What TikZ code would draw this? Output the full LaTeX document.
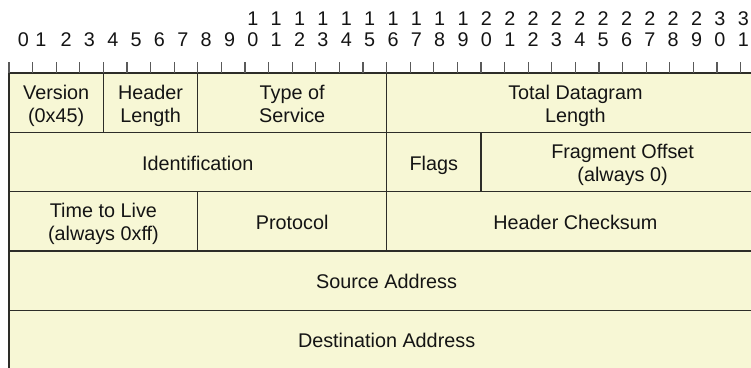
\documentclass[tikz,border=0pt]{standalone}
\usepackage{fontspec}
\setmainfont{Liberation Sans}
\definecolor{fieldfill}{RGB}{247,247,213}
\definecolor{rulecol}{RGB}{45,45,40}
\definecolor{tickcol}{RGB}{90,90,90}
\definecolor{inkcol}{RGB}{20,20,20}
\tikzset{
  field/.style={draw=rulecol, fill=fieldfill, line width=1.3pt, inner sep=0pt},
  fieldtext/.style={inner sep=0pt, align=center, text=inkcol,
    font=\fontsize{19.8}{23}\selectfont},
  bitnum/.style={inner sep=0pt, text=inkcol, font=\fontsize{19.8}{23}\selectfont},
  bittick/.style={draw=tickcol, line width=1.2pt}
}
% one field spanning bits #2..#3 in row #4, with its label
\newcommand{\fieldbox}[5]{%
  \node[field, minimum width={23.6*(#3-#2)*1pt}, minimum height={59.3*1pt}]
    (#1) at ({9+23.6*(#2+#3)/2}, {73+59.3*(#4+0.5)}) {};
  \node[fieldtext] (#1-label) at ([yshift=-3.5pt]#1.center) {#5};}
\begin{document}
\begin{tikzpicture}[x=1pt,y=-1pt]
  \useasboundingbox (0,0) rectangle (751,367);
  \clip (0,0) rectangle (751,367);

  % row 1
  \fieldbox{ver}{0}{4}{0}{\strut Version\\\strut (0x45)}
  \fieldbox{hlen}{4}{8}{0}{\strut Header\\\strut Length}
  \fieldbox{tos}{8}{16}{0}{\strut Type of\\\strut Service}
  \fieldbox{tlen}{16}{32}{0}{\strut Total Datagram\\\strut Length}
  % row 2
  \fieldbox{ident}{0}{16}{1}{\strut Identification}
  \fieldbox{flags}{16}{20}{1}{\strut Flags}
  \fieldbox{frag}{20}{32}{1}{\strut Fragment Offset\\\strut (always 0)}
  % row 3
  \fieldbox{ttl}{0}{8}{2}{\strut Time to Live\\\strut (always 0xff)}
  \fieldbox{proto}{8}{16}{2}{\strut Protocol}
  \fieldbox{csum}{16}{32}{2}{\strut Header Checksum}
  % rows 4 and 5
  \fieldbox{src}{0}{32}{3}{\strut Source Address}
  \fieldbox{dst}{0}{32}{4}{\strut Destination Address}

  % bit ticks above the header
  \foreach \k in {0,...,32}
    \draw[bittick] ({9+23.6*\k},62) -- ({9+23.6*\k},73);

  % bit numbers
  \node[bitnum] (b0) at (23.5,40) {0};
  \node[bitnum] (b1) at (41,40) {1};
  \foreach \k in {2,...,9}
    \node[bitnum] (b\k) at ({19.4+23.35*\k},40) {\k};
  \foreach \k in {10,...,31}{
    \pgfmathtruncatemacro{\tens}{int(\k/10)}
    \pgfmathtruncatemacro{\ones}{mod(\k,10)}
    \node[bitnum] (t\k) at ({19.4+23.35*\k},18.5) {\tens};
    \node[bitnum] (b\k) at ({19.4+23.35*\k},40) {\ones};
  }
\end{tikzpicture}
\end{document}
